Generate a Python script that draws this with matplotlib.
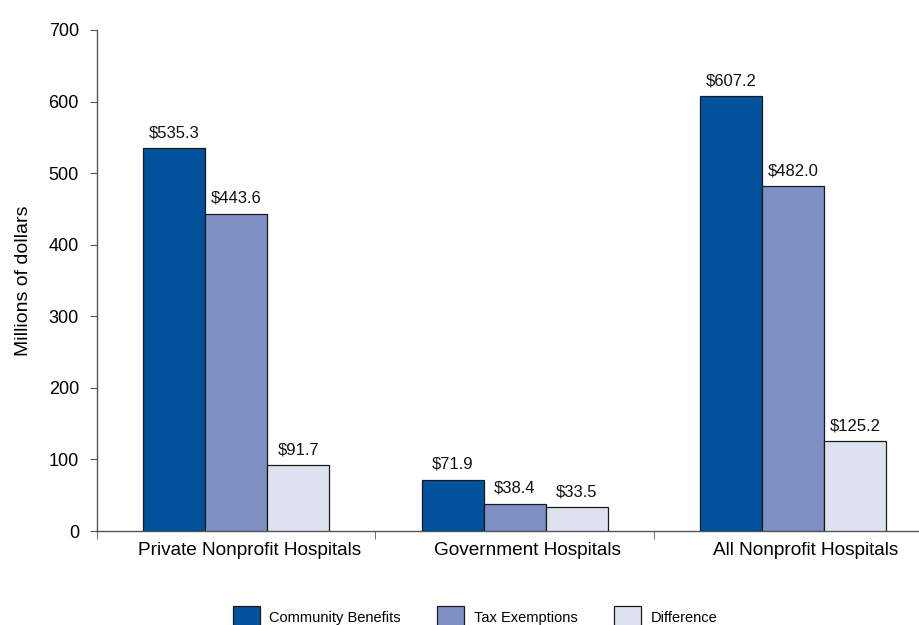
import matplotlib
matplotlib.use("Agg")
import matplotlib.pyplot as plt
from matplotlib.transforms import ScaledTranslation
import numpy as np

plt.rcParams['font.family'] = ['Liberation Sans', 'DejaVu Sans']

categories = ["Private Nonprofit Hospitals", "Government Hospitals", "All Nonprofit Hospitals"]
series_names = ["Community Benefits", "Tax Exemptions", "Difference"]
community_benefits = [535.3, 71.9, 607.2]
tax_exemptions = [443.6, 38.4, 482.0]
difference = [91.7, 33.5, 125.2]
y_ticks = [0, 100, 200, 300, 400, 500, 600, 700]

colors = ["#00529C", "#7F91C4", "#DDE1F0"]
series = [community_benefits, tax_exemptions, difference]

fig = plt.figure(figsize=(9.2, 6.25), dpi=100)
ax = fig.add_axes([97 / 920, 1 - 531 / 625, 823 / 920, 501 / 625])

x = np.arange(len(categories))
width = 0.2227
offsets = [-width, 0, width]
for vals, off, col, name in zip(series, offsets, colors, series_names):
    bars = ax.bar(x + off, vals, width, color=col, edgecolor="#1a1a1a",
                  linewidth=0.9, label=name, zorder=3)
    for b, v in zip(bars, vals):
        ax.annotate(f"${v:.1f}", (b.get_x() + b.get_width() / 2, v),
                    xytext=(0, 5.5), textcoords="offset points",
                    ha="center", va="bottom", fontsize=12, color="#111111")

ax.set_yticks(y_ticks)
ax.set_ylim(0, 700)
ax.set_xticks(x)
ax.set_xticklabels(categories, fontsize=13.7)
ax.tick_params(axis="x", length=0, pad=8)
# nudge category labels slightly to the right
shift = ScaledTranslation(0.13, 0, fig.dpi_scale_trans)
for lbl in ax.get_xticklabels():
    lbl.set_transform(lbl.get_transform() + shift)
# category separators as minor ticks; set limits afterwards so they are not widened
ax.set_xticks(np.arange(len(categories) + 1) - 0.5, minor=True)
ax.tick_params(axis="x", which="minor", length=6, color="#555555", direction="out")
ax.set_xlim(-0.5, -0.5 + 823 / 278.4)
ax.tick_params(axis="y", labelsize=13, length=5, color="#555555", pad=8)
ax.set_ylabel("Millions of dollars", fontsize=14, labelpad=12)

for s in ["top", "right"]:
    ax.spines[s].set_visible(False)
for s in ["left", "bottom"]:
    ax.spines[s].set_color("#555555")
    ax.spines[s].set_linewidth(1.0)

fig.legend(loc="upper center", bbox_to_anchor=(475 / 920, 1 - 599 / 625), ncol=3,
           frameon=False, fontsize=10.5, handlelength=1.85, handleheight=1.85,
           handletextpad=0.65, columnspacing=2.5, borderpad=0)

fig.savefig("out.png", dpi=100)
